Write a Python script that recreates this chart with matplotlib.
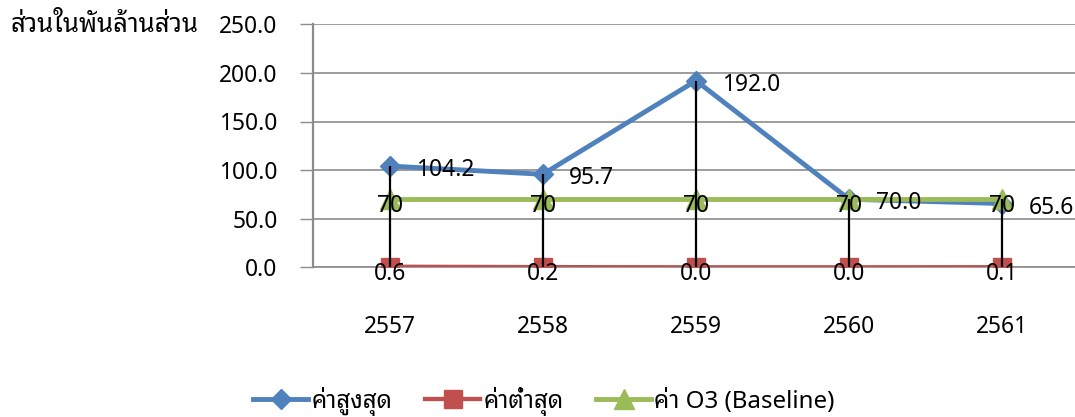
import matplotlib
matplotlib.use('Agg')
import matplotlib.pyplot as plt
import numpy as np

years = ['2557', '2558', '2559', '2560', '2561']
max_vals = [104.2, 95.7, 192.0, 70.0, 65.6]
min_vals = [0.6, 0.2, 0.0, 0.0, 0.1]
base_vals = [70, 70, 70, 70, 70]
series_names = ['ค่าสูงสุด', 'ค่าต่ำสุด', 'ค่า O3 (Baseline)']
y_title = 'ส่วนในพันล้านส่วน'
y_ticks = [0, 50, 100, 150, 200, 250]

plt.rcParams['font.family'] = ['Noto Sans Thai Looped', 'Noto Sans Thai', 'Sarabun', 'DejaVu Sans']
FS = 16.4
FS_LEG = 17.3
FS_TITLE = 18.5

BLUE = '#4F81BD'
RED = '#C0504D'
GREEN = '#9BBB59'
GRID = '#8C8C8C'

fig = plt.figure(figsize=(10.75, 4.17), dpi=100)
ax = fig.add_axes([313/1075, 1-267.3/417, (1079-313)/1075, (267.3-24.3)/417])

x = np.arange(len(years))
l1, = ax.plot(x, max_vals, color=BLUE, lw=3.5, marker='D', ms=10, mec=BLUE, zorder=3)
l2, = ax.plot(x, min_vals, color=RED, lw=3.1, marker='s', ms=13.5, mec=RED, zorder=3)
l3, = ax.plot(x, base_vals, color=GREEN, lw=3.5, marker='^', ms=14, mec=GREEN, zorder=3.5)

hi = np.maximum(np.maximum(max_vals, min_vals), base_vals)
lo = np.minimum(np.minimum(max_vals, min_vals), base_vals)
ax.vlines(x, lo, hi, colors='black', lw=1.6, zorder=4)

for xi, v in zip(x, max_vals):
    ax.annotate(f'{v:.1f}', (xi, v), xytext=(19, -3), textcoords='offset points',
                ha='left', va='center', fontsize=FS, color='black', zorder=5)
for xi, v in zip(x, base_vals):
    ax.annotate(f'{v}', (xi, v), xytext=(0, -4.5), textcoords='offset points',
                ha='center', va='center', fontsize=FS, color='black', zorder=5)
for xi, v in zip(x, min_vals):
    ax.annotate(f'{v:.1f}', (xi, v), xytext=(0, -5), textcoords='offset points',
                ha='center', va='center', fontsize=FS, color='black', zorder=5)

ax.set_xlim(-0.5, len(years) - 0.5)
ax.set_ylim(0, 250)
ax.set_yticks(y_ticks)
ax.set_yticklabels([f'{t:.1f}' for t in y_ticks], fontsize=FS)
ax.set_xticks(x)
ax.set_xticklabels(years, fontsize=FS)
ax.tick_params(axis='x', length=0, pad=34)
ax.tick_params(axis='y', length=9.4, width=1, color=GRID, pad=16)

ax.grid(axis='y', color=GRID, lw=1.2)
ax.set_axisbelow(True)
for s in ['top', 'right']:
    ax.spines[s].set_visible(False)
ax.spines['left'].set_color(GRID)
ax.spines['left'].set_linewidth(1.6)
ax.spines['bottom'].set_color(GRID)
ax.spines['bottom'].set_linewidth(1.2)

fig.text(10/1075, 1-25/417, y_title, ha='left', va='center', fontsize=FS_TITLE)

fig.legend([l1, l2, l3], series_names, loc='center', bbox_to_anchor=(544/1075, 1-401/417),
           ncol=3, frameon=False, fontsize=FS_LEG, handlelength=2.29, handletextpad=0.12,
           columnspacing=1.37, borderpad=0)

fig.savefig('out.png', dpi=100)
